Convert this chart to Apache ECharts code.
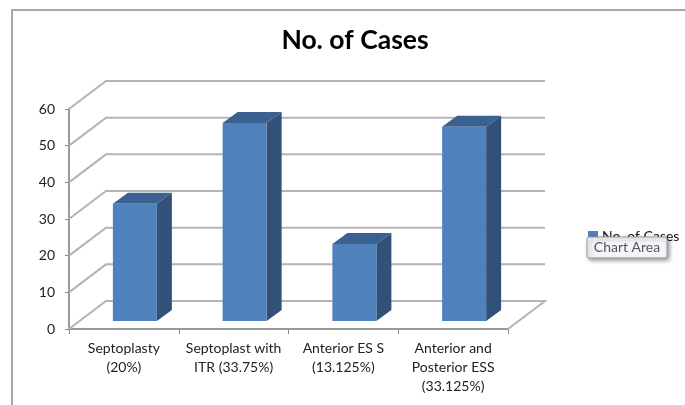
<!DOCTYPE html>
<html><head><meta charset="utf-8">
<style>html,body{margin:0;padding:0;background:#fff}#c{width:685px;height:405px}</style>
<script src="https://cdn.jsdelivr.net/npm/echarts@6/dist/echarts.min.js"></script>
</head><body><div id="c"></div>
<script>
const categories = ['Septoplasty\n(20%)', 'Septoplast with\nITR (33.75%)', 'Anterior ES S\n(13.125%)', 'Anterior and\nPosterior ESS\n(33.125%)'];
const cases = [32, 54, 21, 53];
const yTicks = [0, 10, 20, 30, 40, 50, 60];
const seriesName = 'No. of Cases';

const chart = echarts.init(document.getElementById('c'), null, {renderer: 'canvas'});
const DX = 37, DY = -28;          // wall depth
const BX = 15, BY = -11;          // bar depth
const SX = 11, SY = -8;           // bar shift into the floor
const GRID = '#b4b4b4';

function wall(params, api) {
  const v = api.value(0);
  const p = api.coord([0, v]);
  const cs = params.coordSys;
  const left = cs.x, right = cs.x + cs.width;
  const y = p[1];
  const style = {stroke: GRID, lineWidth: 2, fill: null};
  if (v === 0) {
    return {type: 'polyline', silent: true, shape: {points: [[left, y], [left + DX, y + DY], [right + DX, y + DY], [right, y]]}, style};
  }
  return {type: 'polyline', silent: true, shape: {points: [[left, y], [left + DX, y + DY], [right + DX, y + DY]]}, style};
}
function bar3d(params, api) {
  const c = api.coord([api.value(0), api.value(1)]);
  const base = api.coord([api.value(0), 0]);
  const w = 44;
  const x0 = c[0] + SX - w / 2, x1 = x0 + w;
  const yt = c[1] + SY, yb = base[1] + SY;
  return {type: 'group', children: [
    {type: 'polygon', shape: {points: [[x1, yt], [x1 + BX, yt + BY], [x1 + BX, yb + BY], [x1, yb]]}, style: {fill: '#315179'}},
    {type: 'polygon', shape: {points: [[x0, yt], [x0 + BX, yt + BY], [x1 + BX, yt + BY], [x1, yt]]}, style: {fill: '#3a6190'}},
    {type: 'rect', shape: {x: x0, y: yt, width: w, height: yb - yt}, style: {fill: '#4f81bd'}}
  ]};
}

chart.setOption({
  animation: false,
  backgroundColor: '#fff',
  title: {text: seriesName, left: 355, top: 27, textAlign: 'center', padding: 0,
    textStyle: {fontFamily: 'Lato', fontSize: 26.5, fontWeight: 'bold', color: '#000'}},
  legend: {show: true, left: 588, top: 229, padding: 0, itemWidth: 10, itemHeight: 10, itemGap: 0,
    data: [{name: seriesName, icon: 'rect'}],
    formatter: seriesName,
    textStyle: {fontFamily: 'Lato', fontSize: 14, color: '#111', padding: [0, 0, 0, -1]}},
  grid: {left: 69, top: 109, width: 439, height: 220},
  xAxis: {type: 'category', data: categories,
    axisLine: {lineStyle: {color: '#9a9a9a', width: 2}},
    axisTick: {show: true, alignWithLabel: false, length: 5, lineStyle: {color: '#8a8a8a'}},
    axisLabel: {fontFamily: 'Lato', fontSize: 14, color: '#222', lineHeight: 19, margin: 10, interval: 0}},
  yAxis: {type: 'value', min: 0, max: 60, interval: 10,
    axisLine: {show: true, lineStyle: {color: '#9a9a9a', width: 2}},
    axisTick: {show: true, length: 4, lineStyle: {color: '#8a8a8a'}},
    splitLine: {show: false},
    axisLabel: {fontFamily: 'Lato', fontSize: 14, color: '#222', margin: 14}},
  series: [
    {type: 'custom', name: 'wall', silent: true, z: 1, coordinateSystem: 'cartesian2d',
      data: yTicks.map(v => [v]), encode: {y: 0}, renderItem: wall, legendHoverLink: false},
    {type: 'custom', name: seriesName, z: 3, coordinateSystem: 'cartesian2d',
      itemStyle: {color: '#4f81bd'},
      data: cases.map((v, i) => [i, v]), encode: {x: 0, y: 1}, renderItem: bar3d}
  ],
  graphic: [
    {type: 'rect', z: 0, silent: true, shape: {x: 12, y: 10, width: 700, height: 420},
      style: {fill: 'none', stroke: '#a8a8a8', lineWidth: 2}},
    {type: 'rect', z: 100, silent: true, shape: {x: 587, y: 237, width: 80, height: 21, r: 2},
      style: {fill: '#f6f6fa', stroke: '#9a9a9a', lineWidth: 1, shadowColor: 'rgba(0,0,0,0.4)', shadowBlur: 4, shadowOffsetX: 2, shadowOffsetY: 2}},
    {type: 'text', z: 101, silent: true, x: 627, y: 247.5,
      style: {text: 'Chart Area', fontFamily: 'Lato', fontSize: 14, fill: '#555', align: 'center', verticalAlign: 'middle'}}
  ]
});
</script></body></html>
